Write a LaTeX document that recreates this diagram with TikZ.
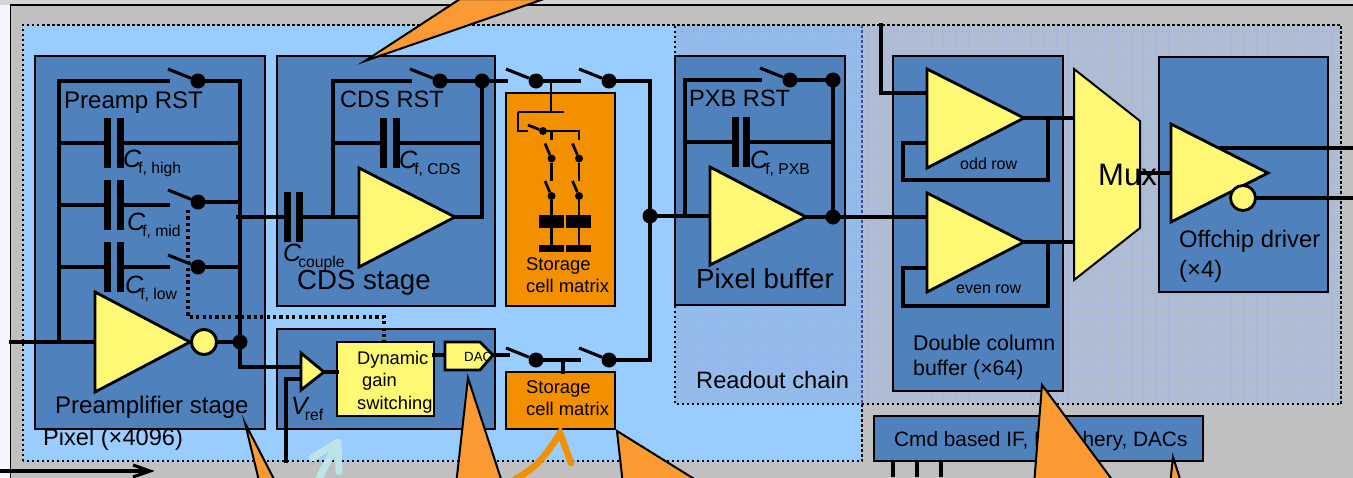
\documentclass[tikz,border=0pt]{standalone}
\usepackage{fontspec}
\setmainfont{Liberation Sans}
\definecolor{blk}{HTML}{4F81BD}
\definecolor{panel}{HTML}{C0C0C0}
\definecolor{pix}{HTML}{99CCFF}
\definecolor{ovl}{HTML}{93BCEB}
\definecolor{rog}{HTML}{AFBDD3}
\definecolor{yel}{HTML}{FFF875}
\definecolor{org}{HTML}{F39000}
\definecolor{call}{HTML}{FB9A33}
\definecolor{teal}{HTML}{BFE4E8}
\newcommand{\fsz}[1]{\fontsize{#1}{#1}\selectfont}
\tikzset{
  wire/.style={line width=3.1pt,line cap=rect,line join=miter},
  thin wire/.style={line width=2.7pt},
  block/.style={draw=black,line width=2.2pt,fill=blk,outer sep=0pt},
  orgblock/.style={draw=black,line width=2.2pt,fill=org,outer sep=0pt},
  ampl/.style={draw=black,line width=2.8pt,fill=yel,line join=miter},
  bubble/.style={circle,draw=black,line width=2.8pt,fill=yel,minimum size=25pt,inner sep=0pt},
  jdot/.style={circle,fill=black,minimum size=15pt,inner sep=0pt},
  sdot/.style={circle,fill=black,minimum size=8pt,inner sep=0pt},
  txt/.style={anchor=base west,inner sep=0pt,text=black},
  border/.style={line width=2.4pt,dash pattern=on 2.5pt off 2.5pt},
  callout/.style={draw=black,line width=2pt,fill=call,line join=miter},
}
% switch: arm + dot, with the open contact as (name-o)
\newcommand{\swi}[3]{%
  \node[jdot] (#1) at (#2,#3) {};
  \coordinate (#1-o) at (#2-30,#3);
  \coordinate (#1-a) at (#2-30,#3-12);
  \draw[wire,line cap=butt] (#1-a) -- (#1);
}
% vertical small switch
\newcommand{\vswi}[3]{%
  \node[sdot] (#1) at (#2,#3) {};
  \coordinate (#1-a) at (#2-6.5,#3-15);
  \draw[thin wire] (#1-a) -- (#1);
}
% capacitor: \capac{name}{x}{y}{gap}
\newcommand{\capac}[4]{%
  \fill (#2,#3-25) rectangle (#2+7,#3+25);
  \fill (#2+7+#4,#3-25) rectangle (#2+13.5+#4,#3+25);
  \coordinate (#1-l) at (#2,#3);
  \coordinate (#1-r) at (#2+13.5+#4,#3);
}
% symbol with subscript
\newcommand{\symb}[5]{%
  \node[txt] (#1) at (#2,#3) {\fsz{25}\itshape #4\kern-3pt\fsz{15.7}\upshape\raisebox{-6.5pt}{#5}};
}
\begin{document}
\begin{tikzpicture}[x=1pt,y=-1pt]
\useasboundingbox (0,0) rectangle (1353,477);
\clip (0,0) rectangle (1353,477);
% page backgrounds
\fill[white!96!blue] (0,0) rectangle (1353,477);
\fill[black!17] (0,0) rectangle (1353,5);
\draw[fill=panel,line width=1.8pt] (10.5,5) rectangle (1370,500);
% regions
\path[fill=pix] (23,25) rectangle (862,461);
\path[fill=rog] (862,25) rectangle (1341,404);
\path[fill=ovl] (675,25) rectangle (862,404);
\foreach \gx in {681,693.5,...,1341} {\draw[blue!40!white,opacity=.18,line width=.5pt] (\gx,25) -- (\gx,404);}
\foreach \gy in {31,43.5,...,404} {\draw[blue!40!white,opacity=.18,line width=.5pt] (675,\gy) -- (1341,\gy);}
\draw[border] (23,461) -- (23,25) -- (1341,25) -- (1341,404) -- (675,404) -- (675,25);
\draw[border] (862,404) -- (862,461) -- (23,461);
\draw[border,draw=black!30!blue!45!gray] (862,25) -- (862,404);

% blocks
\node[block,anchor=north west,minimum width=230pt,minimum height=373pt] (preamp) at (35,56) {};
\node[block,anchor=north west,minimum width=218pt,minimum height=250pt] (cds) at (277,56) {};
\node[block,anchor=north west,minimum width=218pt,minimum height=100pt] (dynb) at (277,329) {};
\node[orgblock,anchor=north west,minimum width=109pt,minimum height=213pt] (st1) at (506,93) {};
\node[orgblock,anchor=north west,minimum width=109pt,minimum height=57pt] (st2) at (506,372) {};
\node[block,anchor=north west,minimum width=170pt,minimum height=249pt] (pxb) at (675,56) {};
\node[block,anchor=north west,minimum width=170pt,minimum height=335pt] (dcb) at (893,56) {};
\node[block,anchor=north west,minimum width=169pt,minimum height=235pt] (off) at (1159,57) {};
\node[block,anchor=north west,minimum width=329pt,minimum height=45pt] (cmd) at (874,416) {};

% ---------- preamplifier
\coordinate (inL) at (11,342);
\coordinate (pa-in) at (95,342);
\coordinate (pa-fb) at (59,342);
\coordinate (pa-tip) at (190,342);
\node[bubble] (pa-b) at (204,342) {};
\node[jdot] (pa-o) at (240,342) {};
\coordinate (vr-p) at (301,367);
\coordinate (vr-n) at (301,379);
\coordinate (vr-tip) at (324,372);
\swi{rstP}{198}{81}
\swi{swM}{198}{202}
\swi{swL}{198}{267}
\capac{chi}{104}{143}{6}
\capac{cmi}{104}{205}{6}
\capac{clo}{104}{267}{6}
\coordinate (pa-out) at (238,217);
\capac{cpl}{284}{217}{5}
\draw[wire] (inL) -- (pa-in);
\draw[wire] (pa-fb) |- (rstP-o);
\draw[wire] (rstP) -| (pa-o);
\draw[wire] (chi-l) -- (chi-l -| pa-fb);
\draw[wire] (chi-r) -- (chi-r -| pa-o);
\draw[wire] (cmi-l) -- (cmi-l -| pa-fb);
\draw[wire] (cmi-r) -- (cmi-r -| swM-o);
\draw[wire] (swM) -- (swM -| pa-o);
\draw[wire] (clo-l) -- (clo-l -| pa-fb);
\draw[wire] (clo-r) -- (swL-o);
\draw[wire] (swL) -- (swL -| pa-o);
\draw[wire] (pa-b) -- (pa-o);
\draw[wire] (pa-o) |- (vr-p);
\draw[wire] (pa-out) -- (cpl-l);
\draw[ampl] (95,292) -- (pa-tip) -- (95,392) -- cycle;
\node[bubble] at (pa-b) {};

% ---------- CDS
\coordinate (cd-in) at (359,217);
\coordinate (cd-fb) at (333,217);
\coordinate (cd-tip) at (455,217);
\swi{rstC}{440}{81}
\node[jdot] (cdj) at (482,81) {};
\capac{ccd}{380}{143}{6}
\draw[wire] (cpl-r) -- (cd-in);
\draw[wire] (cd-fb) |- (rstC-o);
\draw[wire] (rstC) -- (cdj);
\draw[wire] (cdj) |- (cd-tip);
\draw[wire] (ccd-l) -- (ccd-l -| cd-fb);
\draw[wire] (ccd-r) -- (ccd-r -| cdj);
\draw[ampl] (359,168) -- (cd-tip) -- (359,267) -- cycle;

% ---------- sample switches top
\swi{s1}{536}{81}
\swi{s2}{609}{81}
\node[jdot] (bus) at (650,216) {};
\draw[wire] (cdj) -- (s1-o);
\draw[wire] (s1) -- (s2-o);
\draw[wire] (s2) -| (bus);
\coordinate (tap) at (551,81);
\coordinate (tap2) at (551,112);
\coordinate (tap3) at (518,112);
\coordinate (tap4) at (564,112);
\coordinate (tap5) at (518,131);
\coordinate (ms-o) at (528,131);
\node[sdot] (ms) at (543,131) {};
\coordinate (col1) at (551.5,131);
\coordinate (col2) at (579,131);
\draw[thin wire] (tap) -- (tap2);
\draw[thin wire] (tap3) -- (tap4);
\draw[thin wire] (tap3) -- (tap5) -- (ms-o);
\draw[thin wire] (528,125) -- (ms);
\draw[thin wire] (ms) -- (col2) -- ++(0,9);
\draw[thin wire] (col1) -- ++(0,9);
\vswi{a1}{551.5}{158.5}
\vswi{a2}{551.5}{196}
\vswi{b1}{579}{158.5}
\vswi{b2}{579}{196}
\draw[thin wire] (a1) -- ++(0,22);
\draw[thin wire] (b1) -- ++(0,22);
\draw[thin wire] (a2) -- ++(0,52);
\draw[thin wire] (b2) -- ++(0,52);
\fill (539,215) rectangle (564,228);
\fill (566,215) rectangle (591,228);
\fill (539,245) rectangle (564,252);
\fill (566,245) rectangle (591,252);

% ---------- lower branch
\coordinate (vr-nb) at (286,461);
\node[draw=black,line width=2.8pt,fill=yel,anchor=north west,minimum width=97pt,minimum height=74pt,inner sep=0,outer sep=0pt] (dyn) at (337,342) {};
\coordinate (dac-tip) at (493,355);
\coordinate (dac-l) at (445,355);
\coordinate (dyn-out) at (434,355);
\coordinate (dyn-in) at (337,372);
\swi{s3}{536}{360}
\swi{s4}{609}{360}
\coordinate (st2-top) at (563,372);
\coordinate (s3-bus) at (563,360);
\coordinate (dac-stub) at (508,355);
\draw[wire] (vr-nb) |- (vr-n);
\draw[wire] (vr-tip) -- (dyn-in);
\draw[wire] (dyn-out) -- (dac-l);
\draw[wire] (dac-tip) -- (dac-stub);
\draw[wire] (s3) -- (s4-o);
\draw[wire] (s3-bus) -- (st2-top);
\draw[wire] (s4) -| (bus);
\draw[ampl] (301,353) -- (vr-tip) -- (301,390) -- cycle;
\draw[ampl] (445,342) -- (480,342) -- (dac-tip) -- (480,370) -- (445,370) -- cycle;
\coordinate (dg1) at (188,210);
\coordinate (dg2) at (188,317);
\coordinate (dg3) at (384,317);
\draw[line width=3.6pt,dash pattern=on 3.2pt off 3.2pt] (dg1) -- (dg2) -- (dg3) -- (dyn.north -| dg3);

% ---------- pixel buffer
\coordinate (px-in) at (710,216);
\coordinate (px-fb) at (685,216);
\coordinate (px-tip) at (806,217);
\swi{rstX}{790}{80}
\node[jdot] (pxj) at (833,80) {};
\node[jdot] (pxo) at (833,217) {};
\capac{cpx}{732}{142}{4}
\draw[wire] (bus) -- (px-in);
\draw[wire] (px-fb) |- (rstX-o);
\draw[wire] (rstX) -- (pxj);
\draw[wire] (pxj) -- (pxo);
\draw[wire] (px-tip) -- (pxo);
\draw[wire] (cpx-l) -- (cpx-l -| px-fb);
\draw[wire] (cpx-r) -- (cpx-r -| pxo);
\draw[ampl] (710,167) -- (px-tip) -- (710,265) -- cycle;

% ---------- double column buffer
\coordinate (ro-top) at (881,25);
\coordinate (od-p) at (927,93);
\coordinate (od-n) at (927,143);
\coordinate (od-tip) at (1024,118);
\coordinate (od-fb) at (1048,118);
\coordinate (od-mux) at (1074,118);
\coordinate (od-c1) at (1048,180);
\coordinate (od-c2) at (903,180);
\coordinate (ev-p) at (927,217);
\coordinate (ev-n) at (927,268);
\coordinate (ev-tip) at (1024,242);
\coordinate (ev-fb) at (1048,242);
\coordinate (ev-mux) at (1074,242);
\coordinate (ev-c1) at (1048,306);
\coordinate (ev-c2) at (903,306);
\draw[wire] (ro-top) |- (od-p);
\draw[wire] (od-tip) -- (od-mux);
\draw[wire] (od-fb) -- (od-c1) -- (od-c2) |- (od-n);
\draw[wire] (pxo) -- (ev-p);
\draw[wire] (ev-tip) -- (ev-mux);
\draw[wire] (ev-fb) -- (ev-c1) -- (ev-c2) |- (ev-n);
\draw[ampl] (927,69) -- (od-tip) -- (927,168) -- cycle;
\draw[ampl] (927,193) -- (ev-tip) -- (927,292) -- cycle;

% ---------- mux and driver
\coordinate (mx-o) at (1140,173);
\coordinate (dr-in) at (1171,173);
\coordinate (dr-tip) at (1268,173);
\coordinate (dr-p) at (1221,148);
\coordinate (dr-pe) at (1353,148);
\coordinate (dr-ne) at (1353,198);
\draw[ampl,line width=2pt] (1074,69) -- (1140,121) -- (1140,228) -- (1074,280) -- cycle;
\draw[wire] (mx-o) -- (dr-in);
\draw[ampl] (1171,124) -- (dr-tip) -- (1171,222) -- cycle;
\node[bubble] (dr-b) at (1243,198) {};
\draw[wire] (dr-p) -- (dr-pe);
\draw[wire] (dr-b) -- (dr-ne);
\coordinate (c1) at (893,461);
\coordinate (c2) at (917,461);
\coordinate (c3) at (941,461);
\draw[wire,line cap=butt] (c1) -- ++(0,16);
\draw[wire,line cap=butt] (c2) -- ++(0,16);
\draw[wire,line cap=butt] (c3) -- ++(0,16);

% labels
\node[txt] (l1) at (64,108) {\fsz{24}Preamp RST};
\node[txt] (l2) at (340,107) {\fsz{23.6}CDS RST};
\node[txt] (l3) at (689,106) {\fsz{23.6}PXB RST};
\symb{l4}{123}{167}{C}{f, high}
\symb{l5}{127}{230}{C}{f, mid}
\symb{l6}{125}{293}{C}{f, low}
\symb{l7}{399}{168}{C}{f, CDS}
\symb{l8}{283}{261}{C}{couple}
\symb{l9}{750}{168}{C}{f, PXB}
\symb{l10}{291}{414}{V}{ref}
\node[txt] (l11) at (297,289) {\fsz{27.6}CDS stage};
\node[txt] (l12) at (696,288) {\fsz{27.6}Pixel buffer};
\node[txt] (l13) at (55,413) {\fsz{24}Preamplifier stage};
\node[txt] (l14) at (43,445) {\fsz{23.6}Pixel (×4096)};
\node[txt] (l15) at (696,388) {\fsz{23.7}Readout chain};
\node[txt] (l16) at (357,364) {\fsz{18.3}Dynamic};
\node[txt] (l17) at (362,386) {\fsz{18.3}gain};
\node[txt] (l18) at (357,409) {\fsz{18.3}switching};
\node[txt] (l19) at (464,361) {\fsz{13.3}DAC};
\node[txt] (l20) at (526,270) {\fsz{18.4}Storage};
\node[txt] (l21) at (526,292) {\fsz{18.4}cell matrix};
\node[txt] (l22) at (526,393) {\fsz{18.4}Storage};
\node[txt] (l23) at (526,415) {\fsz{18.4}cell matrix};
\node[txt] (l24) at (960,169) {\fsz{16}odd row};
\node[txt] (l25) at (956,293) {\fsz{16}even row};
\node[txt] (l26) at (913,350) {\fsz{21.3}Double column};
\node[txt] (l27) at (913,375) {\fsz{21.3}buffer (×64)};
\node[txt] (l28) at (1098,185) {\fsz{31}Mux};
\node[txt] (l29) at (1179,247) {\fsz{23.8}Offchip driver};
\node[txt] (l30) at (1179,277) {\fsz{23.8}(×4)};
\node[txt] (l31) at (894,446) {\fsz{20.8}Cmd based IF, Periphery, DACs};

% ---------- callouts and arrows
\coordinate (arrL) at (0,471);
\coordinate (arrR) at (150,471);
\draw[line width=3.1pt] (arrL) -- (arrR);
\draw[line width=3.1pt,line join=miter] (133,465) -- (arrR) -- (133,477);
\draw[callout] (365,61) -- (460,-1) -- (544,-1) -- cycle;
\draw[callout] (245,423) -- (277,485) -- (260,485) -- cycle;
\draw[callout] (468,378) -- (456,485) -- (503,485) -- cycle;
\draw[callout] (617,431) -- (623,485) -- (704,485) -- cycle;
\draw[callout] (1042,385) -- (1034,485) -- (1116,485) -- cycle;
\draw[callout] (1173,457) -- (1170,485) -- (1182,485) -- cycle;
\draw[teal,line width=7pt,line cap=round,line join=round] (312,458) -- (338,442) -- (339,472);
\draw[teal,line width=7pt,line cap=round] (337,444) -- (318,480);
\draw[org,line width=6.5pt,line cap=round,line join=miter] (515,479) .. controls (532,470) and (542,462) .. (560,433) -- (571,463);
\end{tikzpicture}
\end{document}
